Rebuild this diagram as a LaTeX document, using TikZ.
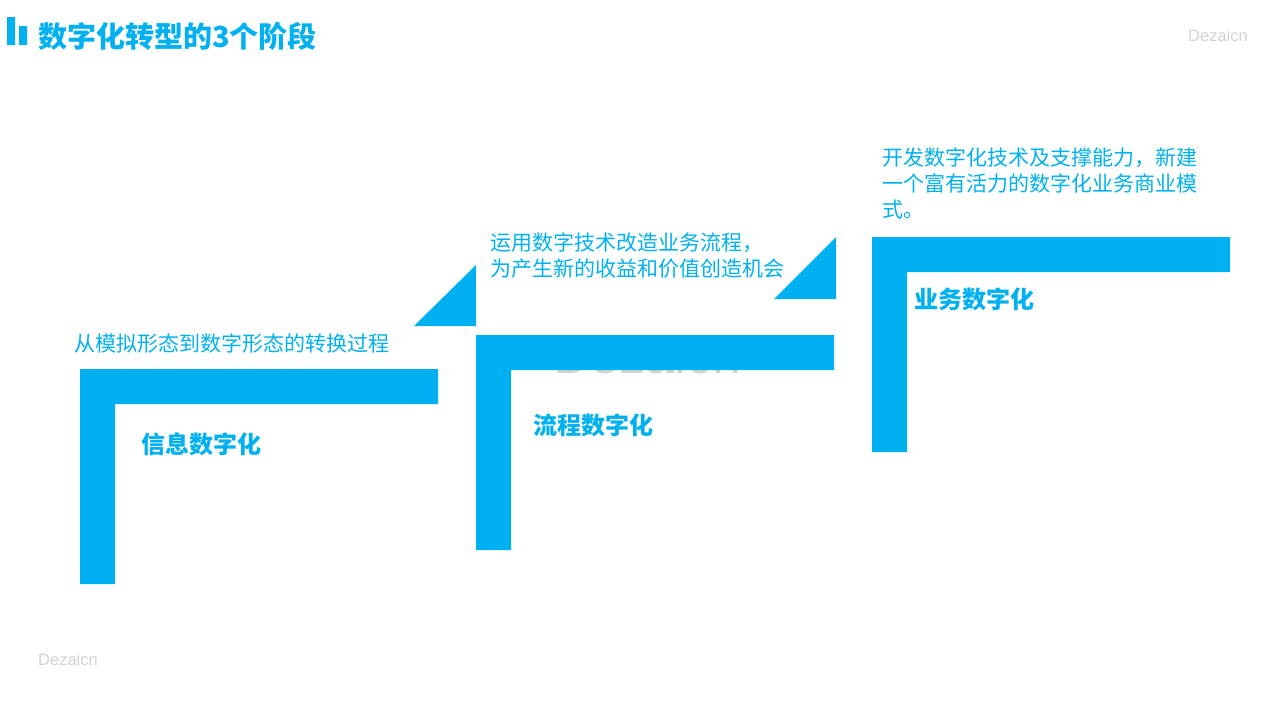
\documentclass[tikz,border=0pt]{standalone}
\usepackage{fontspec}
\setmainfont{Liberation Sans}
\newfontfamily\cjk{Noto Sans CJK SC}
\definecolor{cBlue}{HTML}{00B0F0}
\definecolor{cMark}{HTML}{D2D2D2}

\begin{document}
\begin{tikzpicture}[x=1pt, y=-1pt,
	band/.style={fill=cBlue},
	desc/.style={anchor=west, inner sep=0pt, align=left, text=cBlue, font=\cjk\fontsize{21}{26}\selectfont},
	stage/.style={anchor=west, inner sep=0pt, text=cBlue, font=\cjk\bfseries\fontsize{24}{28}\selectfont},
	wmark/.style={anchor=west, inner sep=0pt, text=cMark, font=\fontsize{16.5}{18}\selectfont}]
			\useasboundingbox (0,0) rectangle (1280,720);
			% title
			\fill [band] (7,17) rectangle (15,45) (19,26) rectangle (27,45);
			\node [anchor=west, inner sep=0pt, text=cBlue, font=\cjk\bfseries\fontsize{29}{31}\selectfont] (title) at (38,36) {数字化转型的3个阶段};
			\node [wmark] (markTop) at (1188,36) {Dezaicn};
			\node [wmark] (markBottom) at (38,660) {Dezaicn};
			\node [anchor=base west, inner sep=0pt, text=cMark, font=\fontsize{52}{54}\selectfont] (markMid) at (553,373) {Dezaicn};
			% steps
			\foreach \x/\y in {80/369, 476/335, 872/237}
				\fill [band] (\x,\y) -- ++(358,0) -- ++(0,35) -- ++(-323,0) -- ++(0,180) -- ++(-35,0) -- cycle;
			\fill [band] (414,326) -- (476,326) -- (476,265) -- cycle;
			\fill [band] (774,299) -- (836,299) -- (836,237) -- cycle;
			% texts
			\node [desc] (descA) at (74,344) {从模拟形态到数字形态的转换过程};
			\node [desc] (descB) at (490,256) {运用数字技术改造业务流程，\\为产生新的收益和价值创造机会};
			\node [desc] (descC) at (882,183) {开发数字化技术及支撑能力，新建\\一个富有活力的数字化业务商业模\\式。};
			\node [stage] (stageA) at (141,444) {信息数字化};
			\node [stage] (stageB) at (533,425) {流程数字化};
			\node [stage] (stageC) at (914,299) {业务数字化};
		\end{tikzpicture}
\end{document}
